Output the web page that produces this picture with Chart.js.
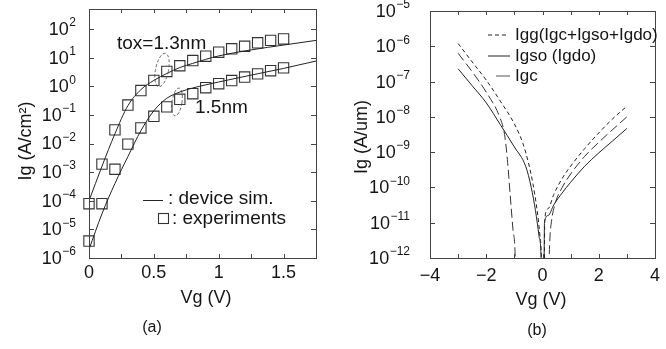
<!DOCTYPE html>
<html><head><meta charset="utf-8">
<script src="https://cdn.jsdelivr.net/npm/chart.js@4"></script>
<style>
html,body{margin:0;padding:0;background:#fff;}
#wrap{position:relative;width:666px;height:349px;overflow:hidden;}
canvas{position:absolute;top:0;}
#a{left:0;} #b{left:333px;}
</style></head><body>
<div id="wrap"><canvas id="a" width="333" height="349"></canvas><canvas id="b" width="333" height="349"></canvas></div>
<script>
// ---------- Panel (a) data ----------
const vgExp = [0,0.1,0.2,0.3,0.4,0.5,0.6,0.7,0.8,0.9,1.0,1.1,1.2,1.3,1.4,1.5];
const exp13 = [7.9e-5,1.9e-3,3.0e-2,0.22,0.71,1.6,3.3,5.2,7.9,11.2,15.5,20.4,25,33,40,45];
const exp15 = [3.9e-6,7.9e-5,1.26e-3,9.5e-3,3.5e-2,0.089,0.19,0.35,0.55,0.89,1.23,1.58,2.1,2.7,3.5,4.4];
const vgSim = [0,0.1,0.2,0.3,0.4,0.5,0.6,0.7,0.8,0.9,1.0,1.25,1.5,1.75];
const sim13 = [1e-4,1.6e-3,2.2e-2,0.21,0.76,1.6,2.8,4.5,6.3,8.7,11.5,18.6,27.5,40];
const sim15 = [2e-6,3.5e-5,4e-4,3.5e-3,2.8e-2,0.14,0.38,0.63,0.87,1.12,1.41,2.45,4.2,7.6];
const xTicksA = [0,0.5,1,1.5];
const xTickLabelsA = ['0','0.5','1','1.5'];
const yDecadesA = [-6,-5,-4,-3,-2,-1,0,1,2];

// ---------- Panel (b) data ----------
const vgIgg = [-3,-2.5,-2,-1.5,-1,-0.7,-0.5,-0.35,-0.2,-0.1,-0.04,-0.02,0.02,0.06,0.08,0.2,0.4,0.7,1,1.5,2,2.5,3];
const igg   = [1.2e-6,3.6e-7,1.1e-7,2.8e-8,6.3e-9,1.8e-9,5e-10,1.4e-10,2.5e-11,5e-12,1e-12,1e-13,null,1e-13,1.26e-11,2.5e-11,6.3e-11,1.8e-10,4e-10,1.26e-9,3.5e-9,8.9e-9,2.0e-8];
const vgIgso = [-3,-2.5,-2,-1.5,-1,-0.6,-0.4,-0.25,-0.12,-0.05,-0.03,0.01,0.05,0.07,0.2,0.4,0.7,1,1.5,2,2.5,3];
const igso   = [2.3e-7,7.6e-8,2.5e-8,6e-9,1.4e-9,4e-10,1e-10,2.2e-11,4e-12,1e-12,1e-13,null,1e-13,1e-11,1.6e-11,3.2e-11,7e-11,1.4e-10,4e-10,9.5e-10,2.1e-9,4.7e-9];
const vgIgc = [-3,-2.5,-2,-1.5,-1.35,-1.25,-1.15,-1.05,-0.97,-0.95,0,0.2,0.26,0.32,0.45,0.7,1,1.5,2,2.5,3];
const igc   = [6.3e-7,1.9e-7,5e-8,8.9e-9,3.2e-9,6.3e-10,6.3e-11,6.3e-12,1e-12,1e-13,null,1e-13,3.2e-12,1.1e-11,3.5e-11,1e-10,2.4e-10,7.6e-10,1.9e-9,4.4e-9,1e-8];
const xTicksB = [-4,-2,0,2,4];
const xTickLabelsB = ['\u22124','\u22122','0','2','4'];
const yDecadesB = [-12,-11,-10,-9,-8,-7,-6,-5];
const legendB = ['Igg(Igc+Igso+Igdo)','Igso (Igdo)','Igc'];

// ---------- helpers ----------
const FONT = '"Liberation Sans", Arial, Helvetica, sans-serif';
const INK = '#151515';
function f(sz){return sz+'px '+FONT;}
function pts(xs,ys){return xs.map((x,i)=>({x:x,y:ys[i]}));}
function logLabel(ctx,e,R,ty){
  const es=(e<0?'\u2212':'')+Math.abs(e);
  ctx.font=f(12); const we=ctx.measureText(es).width;
  ctx.font=f(18); const w10=ctx.measureText('10').width;
  ctx.textAlign='left'; ctx.textBaseline='middle';
  ctx.fillText('10',R-we-w10-0.5,ty+1);
  ctx.font=f(12); ctx.fillText(es,R-we,ty-6);
}
function frame(ctx,ca){
  ctx.strokeRect(Math.round(ca.left)+0.5,Math.round(ca.top)+0.5,Math.round(ca.right-ca.left),Math.round(ca.bottom-ca.top));
}
function vtick(ctx,x,ca,len){
  x=Math.round(x)+0.5;
  ctx.beginPath();ctx.moveTo(x,ca.bottom);ctx.lineTo(x,ca.bottom-len);
  ctx.moveTo(x,ca.top);ctx.lineTo(x,ca.top+len);ctx.stroke();
}
function htick(ctx,y,ca,len){
  y=Math.round(y)+0.5;
  ctx.beginPath();ctx.moveTo(ca.left,y);ctx.lineTo(ca.left+len,y);
  ctx.moveTo(ca.right,y);ctx.lineTo(ca.right-len,y);ctx.stroke();
}
function vtitle(ctx,txt,x,y){
  ctx.save();ctx.translate(x,y);ctx.rotate(-Math.PI/2);
  ctx.textAlign='center';ctx.textBaseline='middle';ctx.font=f(18);ctx.fillText(txt,0,0);ctx.restore();
}

// ---------- Panel (a) ----------
const decoA = {id:'decoA', afterDatasetsDraw(chart){
  const ctx=chart.ctx, ca=chart.chartArea, xs=chart.scales.x, ys=chart.scales.y;
  ctx.save();
  ctx.strokeStyle='#444'; ctx.lineWidth=1; frame(ctx,ca);
  for(let v=0; v<=1.75+1e-9; v+=0.25) vtick(ctx,xs.getPixelForValue(v),ca,4);
  yDecadesA.forEach(e=>htick(ctx,ys.getPixelForValue(Math.pow(10,e)),ca,5));
  ctx.fillStyle=INK;
  ctx.font=f(18); ctx.textAlign='center'; ctx.textBaseline='middle';
  xTicksA.forEach((v,i)=>ctx.fillText(xTickLabelsA[i],xs.getPixelForValue(v),273));
  yDecadesA.forEach(e=>logLabel(ctx,e,76,ys.getPixelForValue(Math.pow(10,e))));
  ctx.font=f(18); ctx.textAlign='center';
  ctx.fillText('Vg (V)',206,298);
  vtitle(ctx,'Ig (A/cm\u00b2)',26,141);
  ctx.font=f(16); ctx.fillText('(a)',152,328);
  // annotations
  ctx.font=f(19); ctx.textAlign='left';
  ctx.fillText('tox=1.3nm',117,44);
  ctx.fillText('1.5nm',195,108);
  // legend
  ctx.strokeStyle='#222'; ctx.beginPath(); ctx.moveTo(143,200.5); ctx.lineTo(163,200.5); ctx.stroke();
  ctx.fillText(': device sim.',168,199);
  ctx.strokeStyle='#333'; ctx.lineWidth=1.1; ctx.strokeRect(158.5,213.5,10,10);
  ctx.fillText(': experiments',172,219);
  // dashed ellipses
  ctx.setLineDash([3,2]); ctx.lineWidth=0.9; ctx.strokeStyle='#555';
  ctx.beginPath(); ctx.ellipse(162,70,6.5,17,0.2,0,Math.PI*2); ctx.stroke();
  ctx.beginPath(); ctx.ellipse(177,102,5,14,0.15,0,Math.PI*2); ctx.stroke();
  ctx.setLineDash([]);
  ctx.restore();
}};

new Chart(document.getElementById('a'),{
  type:'line',
  data:{datasets:[
    {data:pts(vgSim,sim13),borderColor:'#222',borderWidth:1,pointRadius:0,cubicInterpolationMode:'monotone',fill:false},
    {data:pts(vgSim,sim15),borderColor:'#222',borderWidth:1,pointRadius:0,cubicInterpolationMode:'monotone',fill:false},
    {data:pts(vgExp,exp13),showLine:false,pointStyle:'rect',pointRadius:7.3,borderColor:'#333',borderWidth:1.1,backgroundColor:'rgba(0,0,0,0)',clip:false},
    {data:pts(vgExp,exp15),showLine:false,pointStyle:'rect',pointRadius:7.3,borderColor:'#333',borderWidth:1.1,backgroundColor:'rgba(0,0,0,0)',clip:false}
  ]},
  options:{responsive:false,animation:false,devicePixelRatio:1,
    layout:{padding:{left:89,right:17,top:9,bottom:91}},
    plugins:{legend:{display:false},tooltip:{enabled:false}},
    scales:{x:{type:'linear',min:0,max:1.75,display:false},
            y:{type:'logarithmic',min:1e-6,max:500,display:false}}},
  plugins:[decoA]
});

// ---------- Panel (b) ----------
const decoB = {id:'decoB', afterDatasetsDraw(chart){
  const ctx=chart.ctx, ca=chart.chartArea, xs=chart.scales.x, ys=chart.scales.y;
  ctx.save();
  ctx.strokeStyle='#444'; ctx.lineWidth=1; frame(ctx,ca);
  for(let v=-4; v<=4; v+=1) vtick(ctx,xs.getPixelForValue(v),ca,4);
  yDecadesB.forEach(e=>htick(ctx,ys.getPixelForValue(Math.pow(10,e)),ca,5));
  ctx.fillStyle=INK;
  ctx.font=f(18); ctx.textAlign='center'; ctx.textBaseline='middle';
  xTicksB.forEach((v,i)=>ctx.fillText(xTickLabelsB[i],xs.getPixelForValue(v),276));
  yDecadesB.forEach(e=>logLabel(ctx,e,410-333,ys.getPixelForValue(Math.pow(10,e))));
  ctx.font=f(18); ctx.textAlign='center';
  ctx.fillText('Vg (V)',541-333,300);
  vtitle(ctx,'Ig (A/um)',362-333,137);
  ctx.font=f(16); ctx.fillText('(b)',537-333,331);
  // legend
  const ly=[35,56,76];
  ctx.font=f(17); ctx.textAlign='left';
  ctx.strokeStyle='#222'; ctx.lineWidth=1;
  ctx.setLineDash([4,3]); ctx.beginPath(); ctx.moveTo(488-333,ly[0]); ctx.lineTo(509-333,ly[0]); ctx.stroke();
  ctx.setLineDash([]); ctx.beginPath(); ctx.moveTo(488-333,ly[1]); ctx.lineTo(510-333,ly[1]); ctx.stroke();
  ctx.strokeStyle='#555'; ctx.beginPath(); ctx.moveTo(496-333,ly[2]); ctx.lineTo(510-333,ly[2]); ctx.stroke();
  legendB.forEach((t,i)=>ctx.fillText(t,515-333,ly[i]));
  ctx.restore();
}};

new Chart(document.getElementById('b'),{
  type:'line',
  data:{datasets:[
    {data:pts(vgIgg,igg),borderColor:'#222',borderWidth:1,borderDash:[4,3],pointRadius:0,cubicInterpolationMode:'monotone',spanGaps:false,fill:false},
    {data:pts(vgIgso,igso),borderColor:'#222',borderWidth:1,pointRadius:0,cubicInterpolationMode:'monotone',spanGaps:false,fill:false},
    {data:pts(vgIgc,igc),borderColor:'#333',borderWidth:1,borderDash:[9,4],pointRadius:0,cubicInterpolationMode:'monotone',spanGaps:false,fill:false}
  ]},
  options:{responsive:false,animation:false,devicePixelRatio:1,
    layout:{padding:{left:97,right:11,top:11,bottom:91}},
    plugins:{legend:{display:false},tooltip:{enabled:false}},
    scales:{x:{type:'linear',min:-4,max:4,display:false},
            y:{type:'logarithmic',min:1e-12,max:1e-5,display:false}}},
  plugins:[decoB]
});
</script>
</body></html>
